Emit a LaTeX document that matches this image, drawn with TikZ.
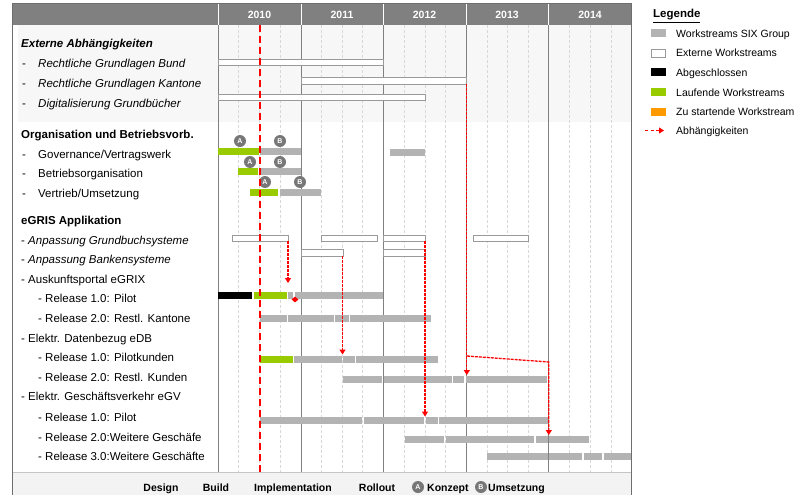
\documentclass[tikz,border=0pt]{standalone}
\usepackage{fontspec}
\setmainfont{Liberation Sans}
\usetikzlibrary{arrows.meta,shapes.geometric}
\definecolor{hdgray}{HTML}{808080}
\definecolor{framegray}{HTML}{6E6E6E}
\definecolor{sixgray}{HTML}{B3B3B3}
\definecolor{okgreen}{HTML}{99CC00}
\definecolor{todoorange}{HTML}{FF9900}
\definecolor{bandgray}{HTML}{F7F7F7}
\definecolor{footgray}{HTML}{F3F3F3}
\definecolor{qgray}{HTML}{D8D8D8}
\definecolor{extborder}{HTML}{9A9A9A}
\definecolor{circgray}{HTML}{777777}

\begin{document}
\begin{tikzpicture}[x=1pt,y=-1pt,
  lbl/.style={anchor=base west,inner sep=0pt,font=\fontsize{11.5}{13}\selectfont},
  lgd/.style={anchor=base west,inner sep=0pt,font=\fontsize{10.5}{12}\selectfont},
  foot/.style={anchor=base,inner sep=0pt,font=\bfseries\fontsize{10.5}{12}\selectfont},
  year/.style={inner sep=0pt,text=white,font=\bfseries\fontsize{10.5}{12}\selectfont},
  phase/.style={circle,fill=circgray,text=white,inner sep=0pt,minimum size=12pt,
    font=\bfseries\fontsize{7}{7}\selectfont},
  extbar/.style={draw=extborder,fill=white,line width=0.8pt},
  yearline/.style={hdgray,line width=0.8pt},
  quarterline/.style={qgray,line width=0.6pt,dash pattern=on 3pt off 2pt},
  today/.style={red,line width=2.2pt,dash pattern=on 7pt off 4pt},
  dep/.style={red,line width=1.3pt,dash pattern=on 3pt off 1pt,
    -{Triangle[width=6pt,length=5pt]}},
]
\useasboundingbox (0,0) rectangle (803,495);

\fill[bandgray] (18,25) rectangle (631,122);
\fill[footgray] (12,472) rectangle (631,495);
\draw[qgray!80!gray] (12,472) -- (631,472);
\fill[hdgray] (12,4) rectangle (631,25);
\foreach \x in {218,301,383,466,548}
  \draw[white,line width=1pt] (\x,4) -- (\x,25);
\foreach \x/\t [count=\i] in {259.5/2010,342/2011,424.5/2012,507/2013,590/2014}
  \node[year] (yr\i) at (\x,15) {\t};

\foreach \k in {1,2,3,5,6,7,9,10,11,13,14,15,17,18,19}
  \draw[quarterline] ({218+20.68*\k},25) -- ({218+20.68*\k},472);
\foreach \x in {218,301,383,466,548}
  \draw[yearline] (\x,25) -- (\x,472);
\draw[framegray,line width=1pt] (12,495) -- (12,4) -- (631,4) -- (631,495);

\node[lbl,font=\bfseries\itshape\fontsize{11.5}{13}\selectfont] (hExt) at (21,48) {Externe Abhängigkeiten};
\foreach \y/\t [count=\i] in {67/Rechtliche Grundlagen Bund,87/Rechtliche Grundlagen Kantone,
    107/Digitalisierung Grundbücher} {
  \node[lbl] (extD\i) at (22,\y) {-};
  \node[lbl,font=\itshape\fontsize{11.5}{13}\selectfont] (ext\i) at (38,\y) {\t};
}
\node[lbl,font=\bfseries\fontsize{11.5}{13}\selectfont] (hOrg) at (21,138) {Organisation und Betriebsvorb.};
\foreach \y/\t [count=\i] in {158/{Governance/Vertragswerk},177/Betriebsorganisation,
    197/{Vertrieb/Umsetzung}} {
  \node[lbl] (orgD\i) at (22,\y) {-};
  \node[lbl] (org\i) at (38,\y) {\t};
}
\node[lbl,font=\bfseries\fontsize{11.5}{13}\selectfont] (hApp) at (21,224) {eGRIS Applikation};
\node[lbl] (app1) at (21,244) {- \textit{Anpassung Grundbuchsysteme}};
\node[lbl] (app2) at (21,263) {- \textit{Anpassung Bankensysteme}};
\foreach \x/\y/\t [count=\i] in {21/283/Auskunftsportal eGRIX,38/302/Release 1.0: Pilot,
    38/322/Release 2.0: Restl. Kantone,21/342/Elektr. Datenbezug eDB,
    38/361/Release 1.0: Pilotkunden,38/381/Release 2.0: Restl. Kunden,
    21/400/Elektr. Geschäftsverkehr eGV,38/421/Release 1.0: Pilot,
    38/441/Release 2.0:Weitere Geschäfe,38/460/Release 3.0:Weitere Geschäfte}
  \node[lbl] (rel\i) at (\x,\y) {- \t};

\foreach \a/\b/\t in {218/383/59,301/466/77.5,218/425/94,232/288/235,321/377/235,
    383/425/235,473/528/235,301/343/249.5,383/425/249.5}
  \draw[extbar] (\a,\t) rectangle (\b,\t+6.5);
\foreach \a/\b/\t in {260/301/148,390/425/149,261/301/168,280/321/189,
    288/293/292,295/383/292,
    260/287/314.5,288/334/314.5,335/349/314.5,350/431/314.5,
    294/342/355.5,343/355/355.5,356/438/355.5,
    343/382/376,384/452/376,453/464/376,466/547/376,
    260/362/417,364/424/417,426/438/417,439/548/417,
    405/444/436,446/534/436,536/548/436,549/589/436,
    487/548/453,549/582/453,584/602/453,604/631/453}
  \fill[sixgray] (\a,\t) rectangle (\b,\t+7);
\foreach \a/\b/\t in {218/259/148,238/258/168,250/278/189,254/287/292,260/293/355.5}
  \fill[okgreen] (\a,\t) rectangle (\b,\t+7);
\fill[black] (218,292) rectangle (252,299);

\node[phase] (govA) at (240,141) {A};
\node[phase] (govB) at (280,141) {B};
\node[phase] (betA) at (250,162) {A};
\node[phase] (betB) at (280,162) {B};
\node[phase] (verA) at (265,182) {A};
\node[phase] (verB) at (300,182) {B};

\coordinate (nowTop) at (260,25);
\coordinate (nowBot) at (260,472);
\draw[today] (nowTop) -- (nowBot);

\coordinate (gbEnd) at (288,241);
\coordinate (rxTop) at (288,283);
\coordinate (bkEnd) at (342.5,256);
\coordinate (pkTop) at (342.5,354.5);
\coordinate (gbEndB) at (425,241);
\coordinate (gvTop) at (425,416.5);
\coordinate (kaEnd) at (466.8,83.5);
\coordinate (knTop) at (466.8,375);
\coordinate (kaFork) at (466.8,356);
\coordinate (wgBend) at (548.8,362);
\coordinate (wgTop) at (548.8,435);
\draw[dep] (gbEnd) -- (rxTop);
\draw[dep] (bkEnd) -- (pkTop);
\draw[dep] (gbEndB) -- (gvTop);
\draw[dep] (kaEnd) -- (knTop);
\draw[dep] (kaFork) -- (wgBend) -- (wgTop);
\node[diamond,fill=red,inner sep=0pt,minimum width=7pt,minimum height=6pt] (rxMark) at (295,299.5) {};

\node[foot] (fDes) at (161,491) {Design};
\node[foot] (fBld) at (216,491) {Build};
\node[foot] (fImp) at (293,491) {Implementation};
\node[foot] (fRol) at (377,491) {Rollout};
\node[phase] (fA) at (418,487) {A};
\node[foot,anchor=base west] (fKon) at (427,491) {Konzept};
\node[phase] (fB) at (481,487) {B};
\node[foot,anchor=base west] (fUms) at (488,491) {Umsetzung};

\node[lbl,font=\bfseries\fontsize{11.5}{13}\selectfont] (lgTitle) at (653,18) {\underline{Legende}};
\fill[sixgray] (651,29.5) rectangle (665.5,37.5);
\draw[extbar] (651,49) rectangle (665.5,57);
\fill[black] (651,68.5) rectangle (665.5,76.5);
\fill[okgreen] (651,88) rectangle (665.5,96);
\fill[todoorange] (651,107.5) rectangle (665.5,115.5);
\coordinate (lgArrS) at (645,130.5);
\coordinate (lgArrE) at (664,130.5);
\draw[dep,line width=1pt,dash pattern=on 3pt off 2.5pt] (lgArrS) -- (lgArrE);
\foreach \y/\t [count=\i] in {37.5/Workstreams SIX Group,57/Externe Workstreams,76.5/Abgeschlossen,
    96/Laufende Workstreams,115.5/Zu startende Workstream,134.5/Abhängigkeiten}
  \node[lgd] (lg\i) at (676,\y) {\t};
\end{tikzpicture}
\end{document}
